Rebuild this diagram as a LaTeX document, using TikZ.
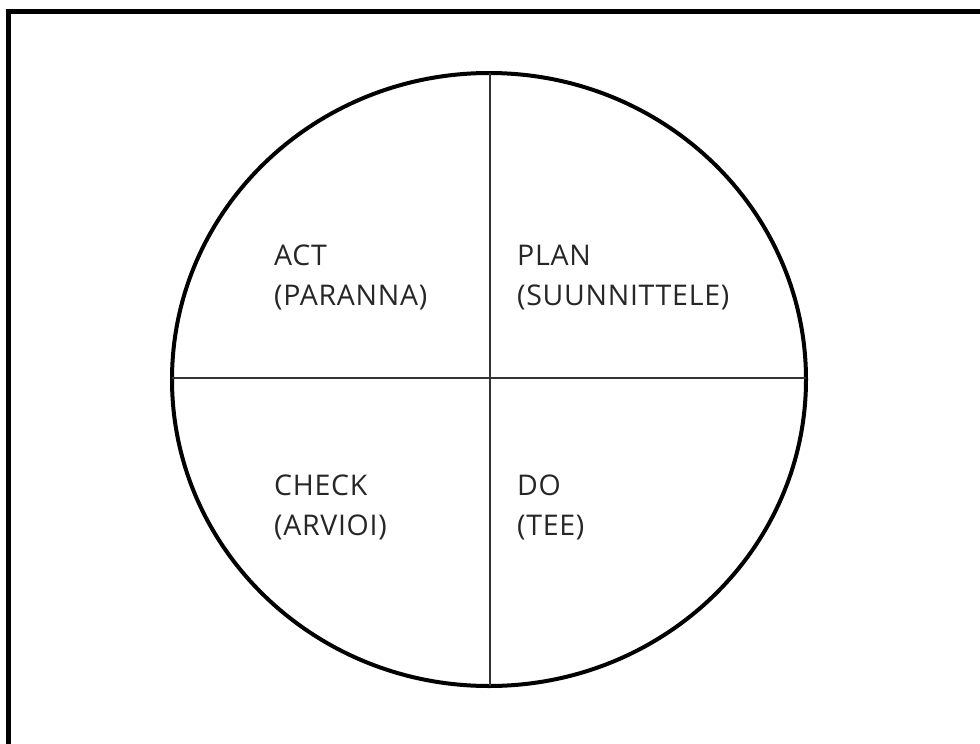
\documentclass[tikz,border=0pt]{standalone}
\usepackage{fontspec}
\setmainfont{Open Sans}
\newfontfamily\lblfont[LetterSpace=2.5]{Open Sans}
\begin{document}
\begin{tikzpicture}[x=1pt,y=-1pt,
  lbl/.style={anchor=base west,inner sep=0pt,font=\lblfont\fontsize{28.5}{34}\selectfont,text=black!85}]
\useasboundingbox (0,0) rectangle (980,744);
\begin{scope}
\clip (0,0) rectangle (980,744);
\draw[line width=5pt] (8.5,11) rectangle (992,747);
\end{scope}
\coordinate (c) at (489,379.5);
\draw[line width=4pt] (c) ellipse [x radius=317, y radius=306.5];
\coordinate (top) at (490,73);
\coordinate (bot) at (490,686);
\coordinate (lft) at (172,377.5);
\coordinate (rgt) at (806,377.5);
\draw[line width=2pt,black!80] (top) -- (bot);
\draw[line width=2pt,black!80] (lft) -- (rgt);
\node[lbl] (act) at (274,265) {ACT};
\node[lbl] (actf) at (274,305) {(PARANNA)};
\node[lbl] (plan) at (517,265) {PLAN};
\node[lbl] (planf) at (517,305) {(SUUNNITTELE)};
\node[lbl] (check) at (274,495) {CHECK};
\node[lbl] (checkf) at (274,535) {(ARVIOI)};
\node[lbl] (do) at (517,495) {DO};
\node[lbl] (dof) at (517,535) {(TEE)};
\end{tikzpicture}
\end{document}
